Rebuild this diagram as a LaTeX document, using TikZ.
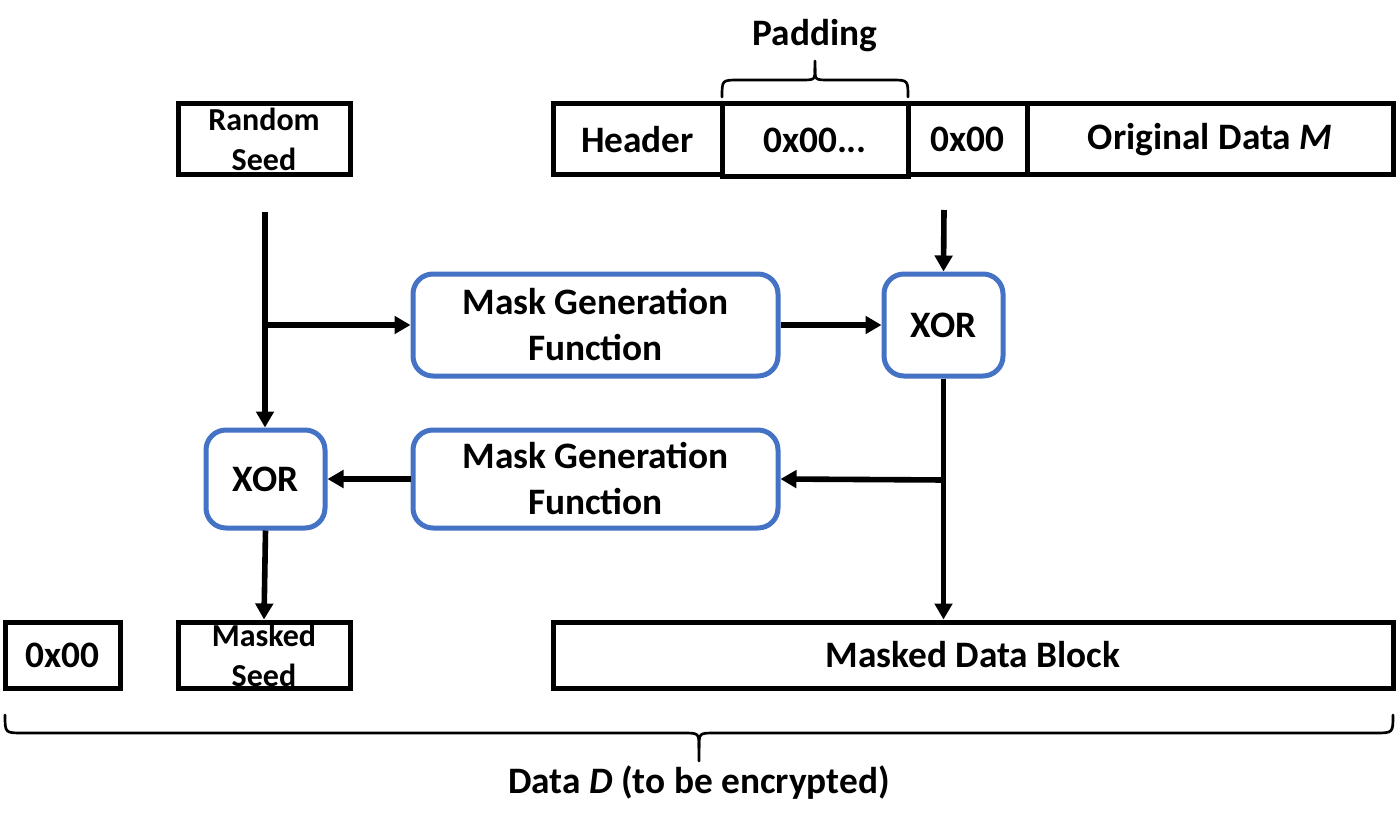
\documentclass[tikz,border=0pt]{standalone}
\usepackage{fontspec}
\setmainfont{Carlito}
\usetikzlibrary{arrows.meta}
\definecolor{mblue}{HTML}{4472C4}
\begin{document}
\begin{tikzpicture}[x=0.75pt,y=-0.75pt,
  every node/.style={font=\bfseries\fontsize{28}{34.5}\selectfont, align=center, inner sep=0pt},
  sz/.style 2 args={minimum width={#1*0.75pt}, minimum height={#2*0.75pt}},
  bbox/.style={draw=black, line width=3.75pt},
  sbox/.style={draw=black, line width=3.75pt, font=\bfseries\fontsize{24}{30}\selectfont},
  fbox/.style={draw=mblue, line width=3.75pt, rounded corners=15pt},
  conn/.style={line width=4.2pt, -{Triangle[length=12pt,width=13pt]}},
  bracepath/.style={line width=2pt, line cap=round}]
\useasboundingbox (0,0) rectangle (1398,827);
% top row
\node[sbox, sz={172}{71}] (rs) at (264,139.5) {Random\\Seed};
\node[bbox, sz={169}{71}] (hdr) at (637.5,139.5) {Header};
\node[bbox, sz={119}{71}] (z1) at (967.5,139.5) {0x00};
\node[bbox, sz={366}{71}] (orig) at (1210,139.5) {Original Data \textit{M}};
\node[bbox, sz={186}{73}] (pad) at (815,140.5) {0x00...};
\node (padl) at (815,36) {Padding};
% function boxes
\node[fbox, sz={365}{102}] (mgf1) at (595.5,325) {Mask Generation\\Function};
\node[fbox, sz={119}{102}] (xor1) at (943.5,325) {XOR};
\node[fbox, sz={365}{98}] (mgf2) at (595.5,479) {Mask Generation\\Function};
\node[fbox, sz={119}{98}] (xor2) at (265.5,479) {XOR};
% bottom row
\node[bbox, sz={115}{66}] (z0) at (62.5,655) {0x00};
\node[sbox, sz={172}{66}] (ms) at (264,655) {Masked\\Seed};
\node[bbox, sz={840}{66}] (mdb) at (973,655) {Masked Data Block};
\node (dl) at (699,783) {Data \textit{D} (to be encrypted)};
% connectors
\coordinate (s1) at (265,212);
\coordinate (b1) at (265,325);
\coordinate (s2) at (944,210);
\coordinate (b2) at (944,480);
\draw[conn] (s1) -- (s1 |- xor2.north);
\draw[conn] (b1) -- (mgf1.west);
\draw[conn] (s2) -- (xor1.north);
\draw[conn] (mgf1.east) -- (xor1.west);
\draw[conn] (xor1.south) -- (xor1.south |- mdb.north);
\draw[conn] (b2) -- (mgf2.east);
\draw[conn] (mgf2.west) -- (xor2.east);
\draw[conn] (xor2.south) -- (ms.north);
% braces
\draw[bracepath] (722,97) .. controls (722,80) .. (739,80) -- (801,80) .. controls (815,80) .. (815,68) -- (815,61);
\draw[bracepath] (908,97) .. controls (908,80) .. (891,80) -- (829,80) .. controls (815,80) .. (815,68);
\draw[bracepath] (5,715) .. controls (5,733) .. (23,733) -- (683,733) .. controls (699,733) .. (699,748) -- (699,761);
\draw[bracepath] (1393,715) .. controls (1393,733) .. (1375,733) -- (715,733) .. controls (699,733) .. (699,748);
\end{tikzpicture}
\end{document}
